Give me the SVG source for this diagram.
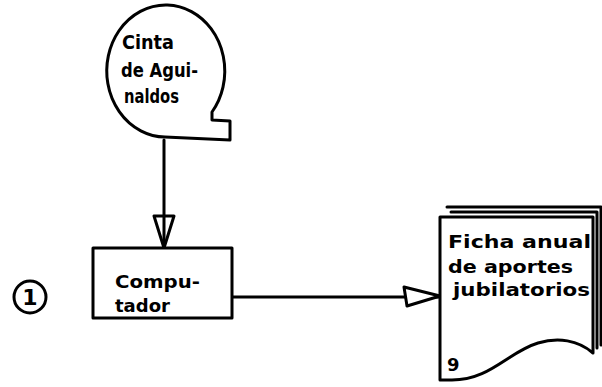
<svg xmlns="http://www.w3.org/2000/svg" width="602" height="387" viewBox="0 0 602 387">
<style>
.ln{fill:none;stroke:#000;stroke-width:3;stroke-linejoin:round;stroke-linecap:round}
.sh{fill:#fff;stroke:#000;stroke-width:3;stroke-linejoin:round}
.tx{font-family:"DejaVu Sans",sans-serif;font-weight:bold;font-size:18px;fill:#000}
.tb{font-size:19px}
.num{font-size:22px}
</style>
<rect width="602" height="387" fill="#fff"/>
<g id="connectors">
<line class="ln" x1="164" y1="140" x2="164" y2="248"/>
<path class="sh" d="M154 216 L174 216 L164 248 Z"/>
<line class="ln" x1="164" y1="216" x2="164" y2="248"/>
<line class="ln" x1="232" y1="297" x2="440" y2="297"/>
<path class="sh" d="M404 287 L440 296 L407 306 Z"/>
</g>
<g id="tape">
<path class="sh" d="M165 137 A59 66 0 1 1 212 112 L212 120 L230 121 L230 140 Z"/>
<text class="tx tb" x="122" y="49" textLength="52" lengthAdjust="spacingAndGlyphs">Cinta</text>
<text class="tx tb" x="121" y="77" textLength="77" lengthAdjust="spacingAndGlyphs">de Agui-</text>
<text class="tx tb" x="124" y="103" textLength="55" lengthAdjust="spacingAndGlyphs">naldos</text>
</g>
<g id="computer">
<rect class="sh" x="93" y="248" width="139" height="70"/>
<text class="tx" x="115" y="288" textLength="85" lengthAdjust="spacingAndGlyphs">Compu-</text>
<text class="tx" x="115" y="312" textLength="55" lengthAdjust="spacingAndGlyphs">tador</text>
</g>
<g id="step">
<circle class="sh" cx="30" cy="297" r="16"/>
<text class="tx num" x="30" y="305" text-anchor="middle">1</text>
</g>
<g id="document">
<path class="ln" d="M451 212 H597 V348"/>
<path class="ln" d="M447 207 H601 V345"/>
<path class="sh" d="M440 217 H593 V353 C578 340 558 337 538 343 C508 352 490 380 452 380 L440 380 Z"/>
<text class="tx" x="448" y="248" textLength="143" lengthAdjust="spacingAndGlyphs">Ficha anual</text>
<text class="tx" x="448" y="273" textLength="125" lengthAdjust="spacingAndGlyphs">de aportes</text>
<text class="tx" x="453" y="296" textLength="137" lengthAdjust="spacingAndGlyphs">jubilatorios</text>
<text class="tx" x="447" y="371">9</text>
</g>
</svg>
